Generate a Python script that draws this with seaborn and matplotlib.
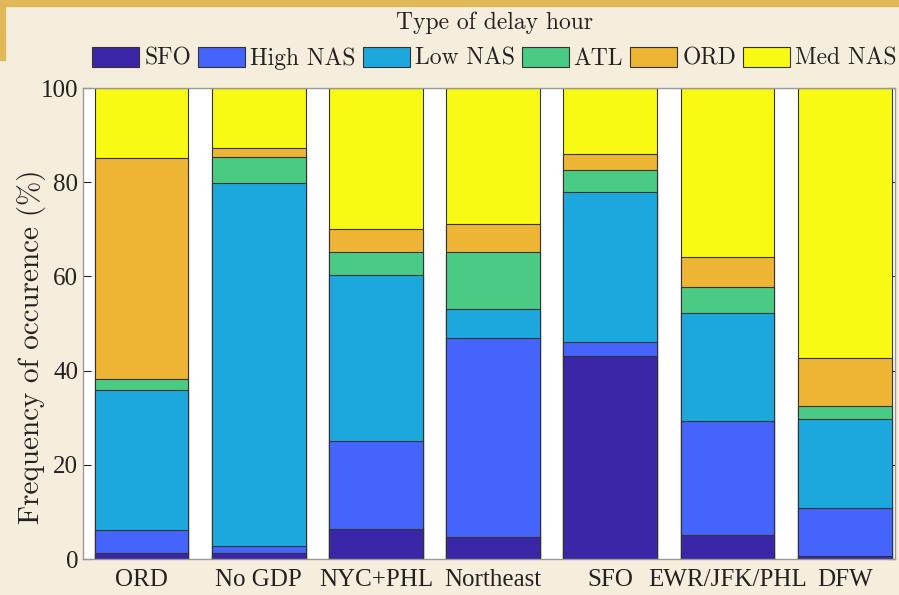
import pandas as pd
import seaborn as sns
import matplotlib.pyplot as plt
import matplotlib.patches as mpatches
import numpy as np

# Data (percent of delay hours per cluster)
clusters = ["ORD", "No GDP", "NYC+PHL", "Northeast", "SFO", "EWR/JFK/PHL", "DFW"]
delay_types = ["SFO", "High NAS", "Low NAS", "ATL", "ORD", "Med NAS"]
sfo = [1.3, 1.3, 6.4, 4.7, 43.2, 5.2, 0.7]
high_nas = [4.8, 1.5, 18.7, 42.2, 2.9, 24.1, 10.1]
low_nas = [29.8, 77.1, 35.2, 6.1, 31.8, 22.9, 18.9]
atl = [2.3, 5.4, 4.8, 12.2, 4.8, 5.5, 2.7]
ord_ = [46.9, 1.9, 5.0, 6.0, 3.4, 6.4, 10.2]
med_nas = [14.9, 12.8, 29.9, 28.8, 13.9, 35.9, 57.4]

colors = ["#3C26A8", "#4464FC", "#1DA8DD", "#49CB84", "#EEB535", "#F8FA14"]

df = pd.DataFrame(
    {"cluster": clusters, "SFO": sfo, "High NAS": high_nas, "Low NAS": low_nas,
     "ATL": atl, "ORD": ord_, "Med NAS": med_nas}
)
# cumulative tops for stacking
cum = df[delay_types].cumsum(axis=1)
cum["cluster"] = df["cluster"]

sns.set_theme(style="white")
plt.rcParams["font.family"] = ["Liberation Serif", "DejaVu Serif"]

BG = "#F6EEDD"
fig = plt.figure(figsize=(8.99, 5.95), dpi=100, facecolor=BG)
ax = fig.add_axes([0.0923, 0.0605, 0.9033, 0.7915])
ax.set_facecolor("white")

# decorative slide frame
fig.patches.append(mpatches.Rectangle((0, 0.99), 1, 0.01, transform=fig.transFigure,
                                      color="#E0B858", zorder=0))
fig.patches.append(mpatches.Rectangle((0, 0.9), 0.006, 0.1, transform=fig.transFigure,
                                      color="#E0B858", zorder=0))

# draw from top layer down so lower layers overlay
for name, col in reversed(list(zip(delay_types, colors))):
    sns.barplot(
        data=cum, x="cluster", y=name, order=clusters, color=col,
        width=0.8, saturation=1, edgecolor="#333333", linewidth=0.8, ax=ax,
    )

ax.set_xlim(-0.5, 6.43)
ax.set_ylim(0, 100)
ax.set_yticks([0, 20, 40, 60, 80, 100])
ax.set_xlabel("")
ax.set_ylabel("Frequency of occurence (%)", fontsize=21, color="#222222",
              family="cmr10")
ax.yaxis.set_label_coords(-0.046, 0.45)
ax.tick_params(axis="y", direction="in", length=6, right=True, left=True,
               labelsize=18, colors="#222222", width=0.8)
ax.tick_params(axis="x", length=0, labelsize=18, labelcolor="#222222", pad=7)
for s in ax.spines.values():
    s.set_color("#999999")
    s.set_linewidth(1.0)

handles = [mpatches.Patch(facecolor=c, edgecolor="#333333", linewidth=0.8, label=n)
           for n, c in zip(delay_types, colors)]
leg = fig.legend(
    handles=handles, loc="center", bbox_to_anchor=(0.55, 0.932), ncol=6,
    frameon=False, title="Type of delay hour", title_fontsize=17,
    handlelength=2.0, handleheight=0.95, handletextpad=0.2, columnspacing=0.3,
    labelspacing=0.55, borderpad=0.2,
    prop={"family": "cmr10", "size": 17},
)
leg.get_title().set_family("cmr10")
leg.get_title().set_color("#222222")
for t in leg.get_texts():
    t.set_color("#222222")

fig.savefig("out.png", dpi=100, facecolor=BG)
